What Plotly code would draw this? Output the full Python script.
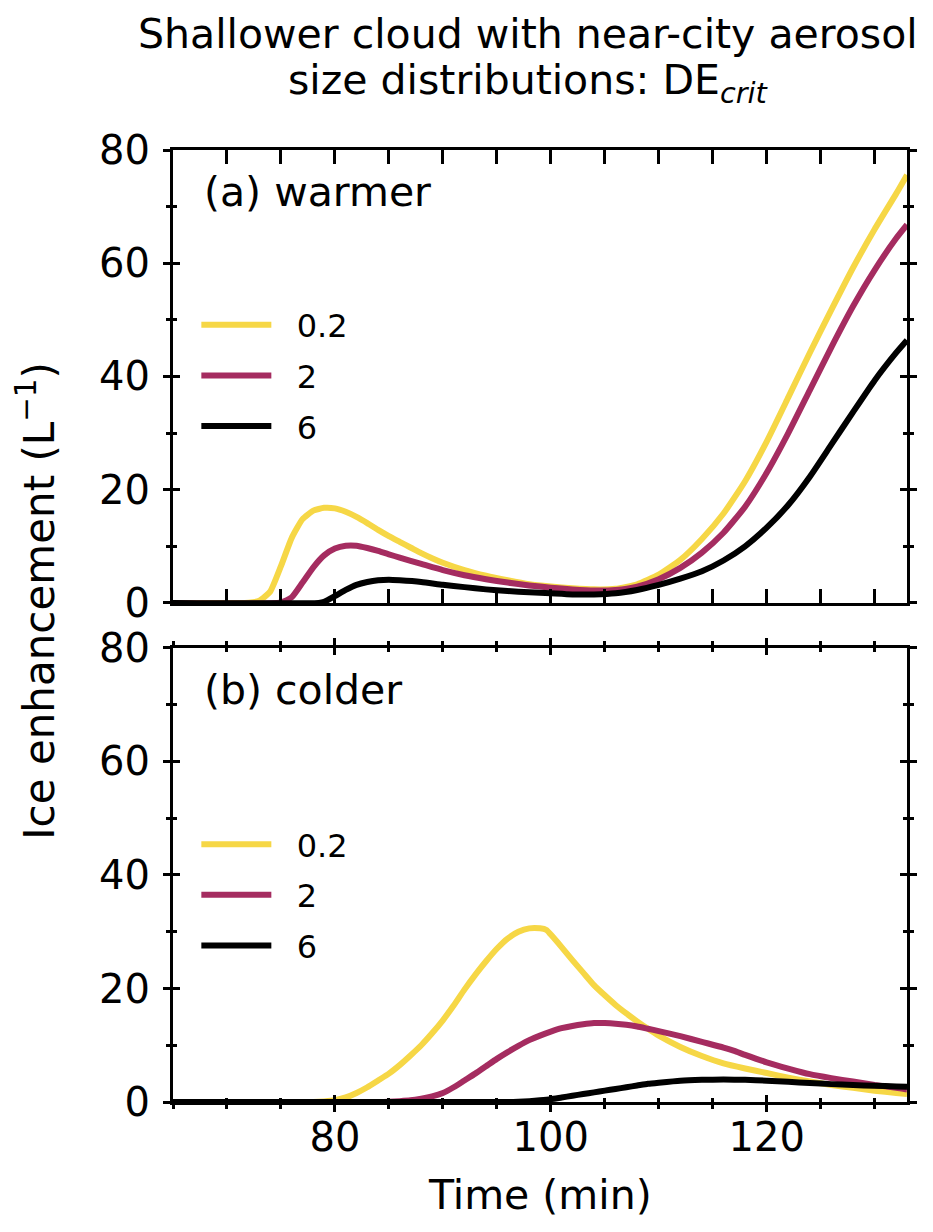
import plotly.graph_objects as go

# ---- data ----
labels = ["0.2", "2", "6"]
colors = ["#f6d746", "#a52c60", "black"]

# (a) warmer
ta_02 = [65, 72, 73, 74, 75, 76, 77, 78, 79, 80, 81, 82, 83, 84, 85, 86, 87, 88, 89, 90, 92, 94, 96, 98, 100,
         102, 104, 106, 108, 110, 112, 114, 116, 118, 120, 122, 124, 126, 128, 130, 132, 133]
va_02 = [0, 0.05, 0.4, 2.0, 6.5, 11.5, 14.8, 16.3, 16.8, 16.7, 16.1, 15.2, 14.1, 12.9, 11.8, 10.8, 9.8, 8.8, 7.9,
         7.1, 5.8, 4.8, 4.0, 3.3, 2.9, 2.6, 2.4, 2.5, 3.3, 5.0, 7.6, 11.3, 15.8, 21.5, 28.5, 36.3, 44.2, 51.8,
         59.2, 66.0, 72.3, 75.6]
ta_2 = [65, 75, 76, 77, 78, 79, 80, 81, 82, 83, 84, 85, 86, 88, 90, 92, 94, 96, 98, 100, 102, 104, 106, 108, 110,
        112, 114, 116, 118, 120, 122, 124, 126, 128, 130, 132, 133]
va_2 = [0, 0.1, 1.0, 3.6, 6.3, 8.4, 9.6, 10.1, 10.1, 9.7, 9.2, 8.6, 8.0, 6.9, 5.8, 4.9, 4.2, 3.6, 3.1, 2.7, 2.4,
        2.2, 2.3, 2.9, 4.2, 6.2, 8.9, 12.4, 17.0, 23.0, 30.0, 37.6, 45.2, 52.4, 58.8, 64.4, 66.8]
ta_6 = [65, 78.5, 79, 80, 81, 82, 83, 84, 85, 86, 88, 90, 92, 94, 96, 98, 100, 102, 104, 106, 108, 110, 112, 114,
        116, 118, 120, 122, 124, 126, 128, 130, 132, 133]
va_6 = [0, 0, 0.2, 1.2, 2.3, 3.2, 3.7, 4.0, 4.1, 4.0, 3.7, 3.2, 2.8, 2.4, 2.1, 1.9, 1.7, 1.5, 1.5, 1.7, 2.3, 3.2,
        4.3, 5.6, 7.5, 10.0, 13.3, 17.3, 22.3, 28.0, 33.7, 39.3, 44.2, 46.4]

# (b) colder
tb_02 = [65, 78, 79, 80, 81, 82, 83, 84, 85, 86, 87, 88, 89, 90, 91, 92, 93, 94, 95, 96, 97, 98, 99, 99.6, 100,
         101, 102, 103, 104, 105, 106, 107, 108, 109, 110, 112, 114, 116, 118, 120, 122, 124, 126, 128, 130, 132, 133]
vb_02 = [0, 0, 0.1, 0.3, 0.8, 1.6, 2.6, 3.8, 5.0, 6.5, 8.2, 10.0, 12.1, 14.4, 17.0, 19.8, 22.4, 24.8, 27.0, 28.8,
         30.0, 30.6, 30.6, 30.3, 29.5, 27.3, 25.0, 22.8, 20.6, 18.8, 17.1, 15.6, 14.2, 12.9, 11.7, 9.7, 8.1, 6.8,
         5.9, 5.1, 4.3, 3.6, 3.0, 2.5, 2.0, 1.6, 1.4]
tb_2 = [65, 84, 85, 86, 87, 88, 89, 90, 91, 92, 93, 94, 95, 96, 97, 98, 99, 100, 101, 102, 103, 104, 105, 106, 107,
        108, 109, 110, 112, 114, 116, 117, 118, 120, 122, 124, 126, 128, 130, 132, 133]
vb_2 = [0, 0, 0.05, 0.15, 0.3, 0.6, 1.0, 1.6, 2.6, 3.8, 5.0, 6.3, 7.6, 8.8, 9.9, 10.9, 11.7, 12.4, 13.0, 13.4, 13.7,
        13.9, 13.9, 13.8, 13.6, 13.3, 12.9, 12.5, 11.6, 10.6, 9.6, 9.0, 8.3, 7.0, 5.9, 4.9, 4.2, 3.6, 3.0, 2.5, 2.2]
tb_6 = [65, 96, 97, 98, 99, 100, 101, 102, 103, 104, 105, 106, 107, 108, 109, 110, 112, 114, 116, 118, 120, 122,
        124, 126, 128, 130, 132, 133]
vb_6 = [0, 0, 0.05, 0.15, 0.3, 0.5, 0.8, 1.1, 1.4, 1.7, 2.0, 2.3, 2.6, 2.9, 3.2, 3.4, 3.75, 3.9, 3.95, 3.9, 3.75,
        3.55, 3.35, 3.15, 3.0, 2.85, 2.75, 2.7]

x_range = [65, 133]
y_range = [0, 80]
x_ticks = [80, 100, 120]
y_ticks = [0, 20, 40, 60, 80]

FONT = "DejaVu Sans"
PH = 952  # plot height in px, used for paper offsets of the text

fig = go.Figure()

panel_a = [(ta_02, va_02), (ta_2, va_2), (ta_6, va_6)]
panel_b = [(tb_02, vb_02), (tb_2, vb_2), (tb_6, vb_6)]
pad = "\u00a0\u00a0"  # gap between legend line and label

for i, (t, v) in enumerate(panel_a):
    fig.add_trace(go.Scatter(x=t, y=v, mode="lines", name=pad + labels[i], legend="legend",
                             legendgroup="a" + labels[i],
                             line=dict(color=colors[i], width=6, shape="spline", smoothing=0.5),
                             xaxis="x2", yaxis="y2"))
for i, (t, v) in enumerate(panel_b):
    fig.add_trace(go.Scatter(x=t, y=v, mode="lines", name=pad + labels[i], legend="legend2",
                             legendgroup="b" + labels[i],
                             line=dict(color=colors[i], width=6, shape="spline", smoothing=0.5),
                             xaxis="x", yaxis="y"))

# empty traces so the overlay axes (inner half of the "inout" ticks) get drawn
fig.add_trace(go.Scatter(x=[], y=[], xaxis="x3", yaxis="y3", showlegend=False))
fig.add_trace(go.Scatter(x=[], y=[], xaxis="x2", yaxis="y4", showlegend=False))

axis_common = dict(showgrid=False, zeroline=False, showline=True, linecolor="black", linewidth=3,
                   tickcolor="black", tickwidth=3, tickfont=dict(family=FONT, size=40, color="black"))
minor_out_x = dict(dtick=5, tick0=65, ticks="outside", ticklen=4, tickwidth=2.5, tickcolor="black")
minor_in_x = dict(dtick=5, tick0=65, ticks="inside", ticklen=4, tickwidth=2.5, tickcolor="black")
minor_out_y = dict(dtick=10, ticks="outside", ticklen=4, tickwidth=2.5, tickcolor="black")
minor_in_y = dict(dtick=10, ticks="inside", ticklen=4, tickwidth=2.5, tickcolor="black")

dom_b = [0, 0.4769]
dom_a = [0.5242, 1]

txt = dict(family=FONT, size=41, color="black")

fig.update_layout(
    # bottom panel x (labels), ticks out + overlay in
    xaxis=dict(axis_common, domain=[0, 1], range=x_range, anchor="y", tickvals=x_ticks, ticks="outside",
               ticklen=7, mirror="allticks", ticklabelstandoff=-9, minor=minor_out_x),
    xaxis3=dict(axis_common, overlaying="x", range=x_range, anchor="y", tickvals=x_ticks, ticks="inside",
                ticklen=7, mirror="allticks", showticklabels=False, showline=False, minor=minor_in_x),
    # top panel x: ticks inside only
    xaxis2=dict(axis_common, domain=[0, 1], range=x_range, anchor="y2", tickvals=x_ticks, ticks="inside",
                ticklen=14, mirror="allticks", showticklabels=False, matches="x",
                minor=dict(minor_in_x, ticklen=7)),
    yaxis=dict(axis_common, domain=dom_b, range=y_range, anchor="x", tickvals=y_ticks, ticks="outside",
               ticklen=7, mirror="allticks", ticklabelstandoff=5, minor=minor_out_y),
    yaxis3=dict(axis_common, overlaying="y", range=y_range, anchor="x3", tickvals=y_ticks, ticks="inside",
                ticklen=7, mirror="allticks", showticklabels=False, showline=False, minor=minor_in_y),
    yaxis2=dict(axis_common, domain=dom_a, range=y_range, anchor="x2", tickvals=y_ticks, ticks="outside",
                ticklen=7, mirror="allticks", ticklabelstandoff=5, minor=minor_out_y),
    yaxis4=dict(axis_common, overlaying="y2", range=y_range, anchor="x2", tickvals=y_ticks, ticks="inside",
                ticklen=7, mirror="allticks", showticklabels=False, showline=False, minor=minor_in_y),
    legend=dict(x=0.0318, y=0.845, xanchor="left", yanchor="top", bgcolor="rgba(0,0,0,0)",
                font=dict(family=FONT, size=32, color="black"), tracegroupgap=6, itemwidth=70),
    legend2=dict(x=0.0318, y=0.2994, xanchor="left", yanchor="top", bgcolor="rgba(0,0,0,0)",
                 font=dict(family=FONT, size=32, color="black"), tracegroupgap=6, itemwidth=70),
    annotations=[
        dict(text="Shallower cloud with near-city aerosol", xref="paper", yref="paper", x=0.4837,
             y=1 + 116 / PH, xanchor="center", yanchor="middle", showarrow=False, font=txt),
        dict(text="size distributions: DE<sub><i>crit</i></sub>", xref="paper", yref="paper", x=0.4837,
             y=1 + 67 / PH, xanchor="center", yanchor="middle", showarrow=False, font=txt),
        dict(text="(a) warmer", xref="x2 domain", yref="y2 domain", x=0.04, y=0.907, xanchor="left",
             yanchor="middle", showarrow=False, font=txt),
        dict(text="(b) colder", xref="x domain", yref="y domain", x=0.04, y=0.907, xanchor="left",
             yanchor="middle", showarrow=False, font=txt),
        dict(text="Ice enhancement (L<sup>\u22121</sup>)", xref="paper", yref="paper", x=-0.186, y=0.527,
             textangle=-90, xanchor="center", yanchor="middle", showarrow=False,
             font=dict(txt, size=42)),
        dict(text="Time (min)", xref="paper", yref="paper", x=0.5, y=-93 / PH, xanchor="center",
             yanchor="middle", showarrow=False, font=txt),
    ],
    width=925, height=1224,
    margin=dict(l=165, r=26, t=142, b=130),
    plot_bgcolor="white", paper_bgcolor="white",
    font=dict(family=FONT, color="black"),
)

fig.write_html("out.html")
